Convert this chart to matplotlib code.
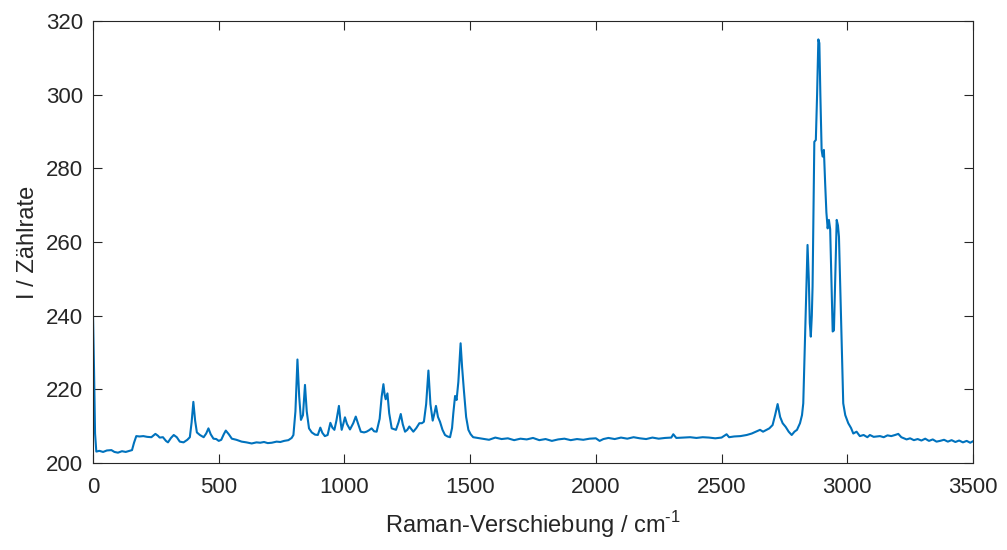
import matplotlib
matplotlib.use("Agg")
import matplotlib.pyplot as plt

# Raman-Spektrum, Werte
wn = [0, 4, 8, 13, 25, 40, 55, 73, 85, 99, 115, 130, 145, 155, 163, 172, 185, 200, 215, 232,
      248, 258, 265, 278, 290, 298, 310, 321, 333, 345, 360, 375, 385, 392, 399, 406, 413, 425, 440, 450,
      459, 468, 479, 490, 500, 510, 520, 528, 540, 552, 570, 591, 610, 631, 650, 665, 680, 695, 711, 730,
      745, 760, 777, 790, 797, 805, 813, 820, 827, 835, 843, 850, 859, 870, 883, 894, 904, 912, 922, 933,
      944, 952, 960, 968, 978, 984, 989, 995, 1002, 1010, 1022, 1035, 1045, 1055, 1065, 1078, 1088, 1098, 1108, 1118,
      1128, 1140, 1148, 1155, 1160, 1164, 1171, 1178, 1188, 1197, 1205, 1215, 1224, 1232, 1241, 1250, 1258, 1266, 1274, 1286,
      1298, 1308, 1316, 1325, 1334, 1342, 1351, 1358, 1364, 1372, 1380, 1390, 1400, 1410, 1420, 1428, 1433, 1440, 1446, 1453,
      1462, 1468, 1475, 1484, 1493, 1502, 1512, 1530, 1550, 1575, 1600, 1625, 1650, 1675, 1700, 1725, 1750, 1775, 1800, 1825,
      1850, 1875, 1900, 1925, 1950, 1975, 2000, 2015, 2030, 2050, 2075, 2100, 2125, 2150, 2175, 2200, 2225, 2250, 2275, 2300,
      2308, 2320, 2350, 2375, 2400, 2425, 2450, 2475, 2500, 2520, 2530, 2550, 2575, 2600, 2620, 2640, 2653, 2665, 2679, 2690,
      2703, 2713, 2723, 2733, 2743, 2755, 2767, 2779, 2790, 2800, 2812, 2820, 2825, 2832, 2837, 2842, 2847, 2851, 2855, 2859,
      2862, 2866, 2869, 2875, 2880, 2885, 2889, 2893, 2898, 2902, 2907, 2912, 2917, 2922, 2927, 2932, 2937, 2942, 2947, 2952,
      2958, 2963, 2967, 2972, 2977, 2984, 2992, 3004, 3015, 3024, 3037, 3050, 3065, 3080, 3090, 3105, 3117, 3130, 3145, 3160,
      3175, 3190, 3203, 3215, 3236, 3250, 3265, 3280, 3295, 3310, 3325, 3340, 3355, 3369, 3385, 3400, 3415, 3430, 3445, 3460,
      3475, 3489, 3500]

counts = [239.5, 225, 208, 203.1, 203.3, 203.0, 203.4, 203.5, 203.0, 202.8, 203.2, 203.0, 203.3, 203.5, 205.5, 207.3, 207.2, 207.3, 207.1, 207.0,
          207.9, 207.4, 206.9, 207.0, 206.0, 205.6, 206.8, 207.6, 207.0, 205.8, 205.6, 206.3, 207.0, 211, 216.6, 211.5, 208.3, 207.6, 207.0, 208.0,
          209.4, 207.8, 206.6, 206.5, 206.0, 206.3, 207.8, 208.8, 207.8, 206.6, 206.3, 205.8, 205.6, 205.3, 205.6, 205.5, 205.7, 205.4, 205.5, 205.8,
          205.7, 206.0, 206.2, 206.8, 207.6, 214, 228.1, 218, 211.7, 213, 221.2, 214, 209.4, 208.3, 207.7, 207.6, 209.6, 208.2, 207.3, 207.6,
          210.9, 209.6, 209.0, 211.5, 215.5, 211.5, 209.0, 210.5, 212.4, 210.6, 209.1, 210.8, 212.6, 210.5, 208.5, 208.3, 208.5, 208.9, 209.4, 208.6,
          208.5, 212, 218, 221.4, 218.5, 217.3, 218.9, 213.5, 209.4, 209.2, 209.0, 211, 213.3, 210.5, 208.5, 209.0, 209.9, 209.2, 208.5, 209.5,
          210.8, 210.8, 211.2, 216, 225.1, 216, 211.5, 213.5, 215.5, 212.5, 211.2, 209, 207.6, 207.2, 207.0, 209.5, 213.5, 218.2, 217.1, 222,
          232.5, 226, 219.8, 212.5, 209.0, 207.8, 207.0, 206.8, 206.6, 206.3, 206.9, 206.5, 206.7, 206.2, 206.6, 206.4, 206.8, 206.2, 206.5, 206.0,
          206.4, 206.6, 206.2, 206.5, 206.3, 206.6, 206.7, 206.0, 206.5, 206.8, 206.5, 206.9, 206.6, 207.0, 206.7, 206.5, 206.9, 206.6, 206.8, 206.9,
          207.8, 206.8, 206.9, 207.0, 206.8, 207.0, 206.9, 206.7, 206.9, 207.8, 207.0, 207.2, 207.3, 207.6, 208.0, 208.6, 209.0, 208.5, 209.0, 209.4,
          210.3, 213, 216.0, 212.5, 210.8, 209.8, 208.5, 207.6, 208.5, 209.0, 210.8, 213, 216.2, 234.3, 248, 259.2, 250, 238, 234.3, 240,
          247.9, 270, 287.2, 287.7, 300, 315.0, 314, 300, 285, 283.2, 285, 276, 268, 263.7, 266, 263.5, 250, 235.7, 236, 250,
          266, 264.5, 261.4, 248, 234.3, 216.2, 213, 210.8, 209.5, 208.0, 208.5, 207.3, 207.6, 207.0, 207.6, 207.1, 207.2, 207.3, 207.0, 207.5,
          207.3, 207.6, 207.9, 207.0, 206.4, 206.7, 206.2, 206.5, 206.1, 206.6, 206.0, 206.4, 205.8, 206.0, 206.3, 205.8, 206.2, 205.7, 206.1, 205.6,
          206.0, 205.5, 205.9]

xticks = [0, 500, 1000, 1500, 2000, 2500, 3000, 3500]
yticks = [200, 220, 240, 260, 280, 300, 320]

plt.rcParams['font.family'] = ['Liberation Sans', 'DejaVu Sans']
plt.rcParams['mathtext.fontset'] = 'custom'
plt.rcParams['mathtext.rm'] = 'Liberation Sans'

fig = plt.figure(figsize=(10.07, 5.5), dpi=100)
ax = fig.add_axes([0.0924, 0.1582, 0.8738, 0.8036])
ax.plot(wn, counts, color="#0072BD", linewidth=1.5)

ax.set_xlim(0, 3500)
ax.set_ylim(200, 320)
ax.set_xticks(xticks)
ax.set_yticks(yticks)
ax.tick_params(direction="in", length=6.5, width=0.8, top=True, right=True,
               labelsize=16, colors="#262626")
ax.tick_params(axis="x", pad=10)
ax.tick_params(axis="y", pad=7)
for s in ax.spines.values():
    s.set_color("#262626")
    s.set_linewidth(0.8)

ax.set_xlabel("Raman-Verschiebung / cm$^{\u2010\\mathregular{1}}$", fontsize=17, color="#262626", labelpad=8)
ax.set_ylabel("I / Zählrate", fontsize=17, color="#262626", labelpad=5)

fig.savefig("out.png", dpi=100)
